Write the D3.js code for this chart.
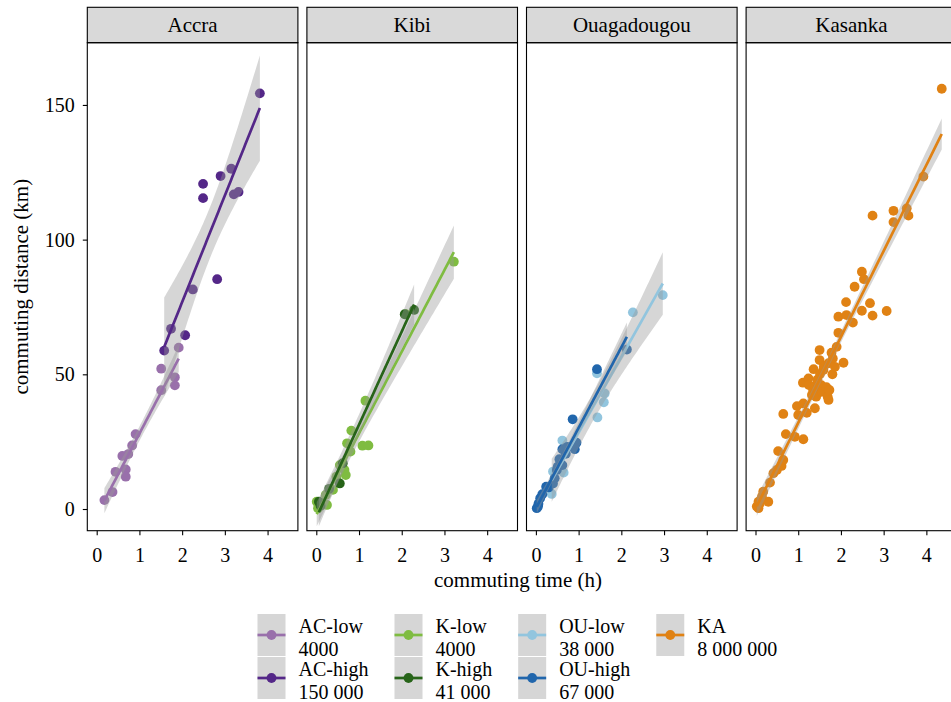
<!DOCTYPE html>
<html>
<head>
<meta charset="utf-8">
<script src="https://cdn.jsdelivr.net/npm/d3@7"></script>
<style>
  body { margin: 0; background: #fff; }
  svg text { font-family: "Liberation Serif", "Times New Roman", serif; fill: #000; }
</style>
</head>
<body>
<svg id="chart" width="951" height="702"></svg>
<script>
// panels (facets) and groups
const panels = ['Accra', 'Kibi', 'Ouagadougou', 'Kasanka'];
const groups = ['AC-low', 'AC-high', 'K-low', 'K-high', 'OU-low', 'OU-high', 'KA'];
const groupPanel = ['Accra', 'Accra', 'Kibi', 'Kibi', 'Ouagadougou', 'Ouagadougou', 'Kasanka'];
const groupPop = ['4000', '150 000', '4000', '41 000', '38 000', '67 000', '8 000 000'];
const xTicks = [0, 1, 2, 3, 4];
const yTicks = [0, 50, 100, 150];

// [commuting time (h), commuting distance (km)]
const acLow = [[0.18, 3.3], [0.37, 6.3], [0.44, 13.8], [0.60, 19.7], [0.68, 14.7], [0.68, 12.0],
  [0.74, 20.4], [0.83, 23.6], [0.91, 27.8], [1.51, 44.1], [1.51, 52.1], [1.83, 48.9], [1.83, 45.9], [1.92, 59.9]];
const acHigh = [[1.58, 58.8], [1.74, 66.9], [2.07, 64.5], [2.25, 81.5], [2.49, 115.4], [2.49, 120.7],
  [2.82, 85.3], [2.90, 123.6], [3.15, 126.3], [3.21, 116.8], [3.32, 117.7], [3.82, 154.3]];
const kLow = [[0.01, 2.7], [0.04, 0.3], [0.22, 5.2], [0.25, 1.5], [0.39, 7.1], [0.47, 12.0], [0.55, 16.3],
  [0.66, 14.5], [0.69, 12.6], [0.72, 24.4], [0.80, 21.3], [0.82, 29.1], [1.08, 23.5], [1.22, 23.6],
  [1.15, 40.2], [2.10, 72.3], [3.22, 91.8]];
const kHigh = [[0.06, 2.7], [0.10, 1.2], [0.30, 7.5], [0.55, 9.5], [0.62, 17.0], [2.07, 72.3], [2.29, 73.9]];
const ouLow = [[0.37, 5.6], [0.40, 13.9], [0.62, 25.4], [0.65, 13.5], [1.43, 50.4], [1.44, 34.0],
  [1.59, 39.6], [1.61, 42.9], [2.27, 73.0], [2.97, 79.4]];
const ouHigh = [[0.02, 0.3], [0.05, 0.9], [0.06, 2.0], [0.10, 4.0], [0.15, 5.5], [0.24, 8.3], [0.30, 8.0],
  [0.40, 9.5], [0.44, 11.4], [0.49, 14.5], [0.51, 15.7], [0.55, 18.5], [0.62, 16.3], [0.62, 22.2],
  [0.70, 20.5], [0.74, 23.1], [0.86, 33.3], [0.91, 22.2], [0.95, 24.6], [1.43, 51.9], [2.13, 59.2]];
const ka = [[0.03, 0.9], [0.07, 0.3], [0.07, 2.7], [0.10, 2.0], [0.15, 4.6], [0.18, 6.4], [0.30, 2.7],
  [0.34, 9.8], [0.42, 13.3], [0.50, 14.5], [0.53, 21.5], [0.61, 16.0], [0.65, 18.2], [0.65, 35.3],
  [0.71, 27.8], [0.92, 26.8], [0.97, 38.2], [1.00, 34.9], [1.11, 46.9], [1.12, 25.9], [1.12, 39.2],
  [1.20, 35.7], [1.24, 48.5], [1.25, 46.0], [1.32, 42.3], [1.35, 44.0], [1.36, 51.9], [1.39, 45.7],
  [1.39, 37.4], [1.42, 41.7], [1.45, 48.0], [1.50, 59.0], [1.50, 55.3], [1.51, 50.1], [1.54, 46.0],
  [1.55, 43.5], [1.59, 51.6], [1.60, 53.0], [1.66, 45.2], [1.69, 41.7], [1.71, 40.5], [1.71, 54.1],
  [1.73, 44.2], [1.78, 58.0], [1.80, 50.0], [1.81, 55.9], [1.86, 52.8], [1.90, 60.2], [1.94, 65.4],
  [1.94, 71.4], [2.06, 54.3], [2.12, 76.8], [2.13, 72.0], [2.28, 69.2], [2.32, 82.5], [2.49, 73.6],
  [2.49, 88.1], [2.54, 85.3], [2.68, 76.4], [2.74, 71.8], [2.74, 108.9], [3.07, 73.5], [3.23, 106.5],
  [3.23, 110.7], [3.54, 111.6], [3.58, 108.9], [3.93, 123.4], [4.36, 156.0]];

const groupPoints = [acLow, acHigh, kLow, kHigh, ouLow, ouHigh, ka];

const colors = {
  'AC-low': '#9970ab',
  'AC-high': '#542788',
  'K-low': '#7fbc41',
  'K-high': '#276419',
  'OU-low': '#92c5de',
  'OU-high': '#2166ac',
  'KA': '#e08214',
};

const svg = d3.select('#chart');

const panelLeft0 = 87.3, panelPitch = 219.6, panelW = 210.6;
const panelTop = 42.7, panelBottom = 530.7, stripTop = 7.3;

const x = d3.scaleLinear().domain([-0.22, 4.71]).range([0, panelW]);
const y = d3.scaleLinear().domain([-8.05, 173.1]).range([panelBottom, panelTop]);

// t quantile (0.975) via Cornish-Fisher expansion
function tq(df) {
  const z = 1.959964;
  return z + (z ** 3 + z) / (4 * df)
    + (5 * z ** 5 + 16 * z ** 3 + 3 * z) / (96 * df ** 2)
    + (3 * z ** 7 + 19 * z ** 5 + 17 * z ** 3 - 15 * z) / (384 * df ** 3);
}

// linear model fit with 95% confidence band, like geom_smooth(method = 'lm')
function fitLm(pts) {
  const n = pts.length;
  const mx = d3.mean(pts, (d) => d[0]);
  const my = d3.mean(pts, (d) => d[1]);
  let sxx = 0, sxy = 0;
  pts.forEach(([a, b]) => { sxx += (a - mx) ** 2; sxy += (a - mx) * (b - my); });
  const slope = sxy / sxx, icpt = my - slope * mx;
  const sse = d3.sum(pts, ([a, b]) => (b - icpt - slope * a) ** 2);
  const s = Math.sqrt(sse / (n - 2));
  const t = tq(n - 2);
  const [lo, hi] = d3.extent(pts, (d) => d[0]);
  return d3.range(80).map((i) => {
    const xv = lo + (hi - lo) * i / 79;
    const fit = icpt + slope * xv;
    const se = s * Math.sqrt(1 / n + (xv - mx) ** 2 / sxx);
    return { x: xv, fit, lo: fit - t * se, hi: fit + t * se };
  });
}

const defs = svg.append('defs');

panels.forEach((name, pi) => {
  const left = panelLeft0 + pi * panelPitch;
  const g = svg.append('g').attr('transform', `translate(${left},0)`);

  defs.append('clipPath').attr('id', 'clip' + pi)
    .append('rect').attr('x', 0).attr('y', panelTop).attr('width', panelW).attr('height', panelBottom - panelTop);

  // strip
  g.append('rect')
    .attr('x', 0).attr('y', stripTop)
    .attr('width', panelW).attr('height', panelTop - stripTop)
    .attr('fill', '#d9d9d9').attr('stroke', '#000').attr('stroke-width', 1.1);
  g.append('text')
    .attr('x', panelW / 2).attr('y', (stripTop + panelTop) / 2)
    .attr('dy', '0.34em')
    .attr('text-anchor', 'middle')
    .style('font-size', '21px')
    .text(name);

  const plot = g.append('g').attr('clip-path', `url(#clip${pi})`);

  const idx = groups.map((gr, i) => i).filter((i) => groupPanel[i] === name);

  // points first
  idx.forEach((i) => {
    plot.append('g')
      .selectAll('circle')
      .data(groupPoints[i])
      .join('circle')
      .attr('cx', (d) => x(d[0]))
      .attr('cy', (d) => y(d[1]))
      .attr('r', 4.9)
      .attr('fill', colors[groups[i]]);
  });

  // smooth: ribbon + line per group
  idx.forEach((i) => {
    const fit = fitLm(groupPoints[i]);
    plot.append('path')
      .datum(fit)
      .attr('fill', '#999999')
      .attr('fill-opacity', 0.4)
      .attr('d', d3.area().x((d) => x(d.x)).y0((d) => y(d.lo)).y1((d) => y(d.hi)));
    plot.append('path')
      .datum(fit)
      .attr('fill', 'none')
      .attr('stroke', colors[groups[i]])
      .attr('stroke-width', 2.7)
      .attr('d', d3.line().x((d) => x(d.x)).y((d) => y(d.fit)));
  });

  // panel border
  g.append('rect')
    .attr('x', 0).attr('y', panelTop)
    .attr('width', panelW).attr('height', panelBottom - panelTop)
    .attr('fill', 'none').attr('stroke', '#000').attr('stroke-width', 1.1);

  // x axis
  const xa = g.append('g')
    .attr('transform', `translate(0,${panelBottom})`)
    .call(d3.axisBottom(x).tickValues(xTicks).tickSize(4.5).tickPadding(13).tickFormat(d3.format('d')));
  xa.select('.domain').remove();
  xa.selectAll('.tick line').attr('stroke', '#000').attr('stroke-width', 1.1);
  xa.selectAll('.tick text').style('font-size', '20px').attr('fill', '#000');

  if (pi === 0) {
    const ya = g.append('g')
      .call(d3.axisLeft(y).tickValues(yTicks).tickSize(4.5).tickPadding(8).tickFormat(d3.format('d')));
    ya.select('.domain').remove();
    ya.selectAll('.tick line').attr('stroke', '#000').attr('stroke-width', 1.1);
    ya.selectAll('.tick text').style('font-size', '20px').attr('fill', '#000');
  }
});

// axis titles
const plotsRight = panelLeft0 + 3 * panelPitch + panelW;
svg.append('text')
  .attr('x', (panelLeft0 + plotsRight) / 2 - 4)
  .attr('y', 587)
  .attr('text-anchor', 'middle')
  .style('font-size', '21px')
  .text('commuting time (h)');

svg.append('text')
  .attr('transform', `translate(21,${(panelTop + panelBottom) / 2}) rotate(-90)`)
  .attr('dy', '0.34em')
  .attr('text-anchor', 'middle')
  .style('font-size', '21px')
  .text('commuting distance (km)');

// legend
const legendCols = [[0, 1], [2, 3], [4, 5], [6]];
const keyW = 28, keyH = 43, legendTop = 614, textGap = 13, colGap = 26;
let lx = 257.5;
const legend = svg.append('g');
legendCols.forEach((col) => {
  let maxW = 0;
  col.forEach((gi, r) => {
    const ky = legendTop + r * keyH;
    const kg = legend.append('g').attr('transform', `translate(${lx},${ky})`);
    kg.append('rect').attr('width', keyW).attr('height', keyH - 1).attr('fill', '#d6d6d6');
    kg.append('line')
      .attr('x1', 0).attr('x2', keyW)
      .attr('y1', (keyH - 1) / 2).attr('y2', (keyH - 1) / 2)
      .attr('stroke', colors[groups[gi]]).attr('stroke-width', 2.7);
    kg.append('circle')
      .attr('cx', keyW / 2).attr('cy', (keyH - 1) / 2).attr('r', 4.9)
      .attr('fill', colors[groups[gi]]);
    const t1 = kg.append('text').attr('x', keyW + textGap).attr('y', 19)
      .style('font-size', '20px').text(groups[gi]);
    const t2 = kg.append('text').attr('x', keyW + textGap).attr('y', 41.5)
      .style('font-size', '20px').text(groupPop[gi]);
    maxW = Math.max(maxW, t1.node().getComputedTextLength(), t2.node().getComputedTextLength());
  });
  lx += keyW + textGap + maxW + colGap;
});
</script>
</body>
</html>
